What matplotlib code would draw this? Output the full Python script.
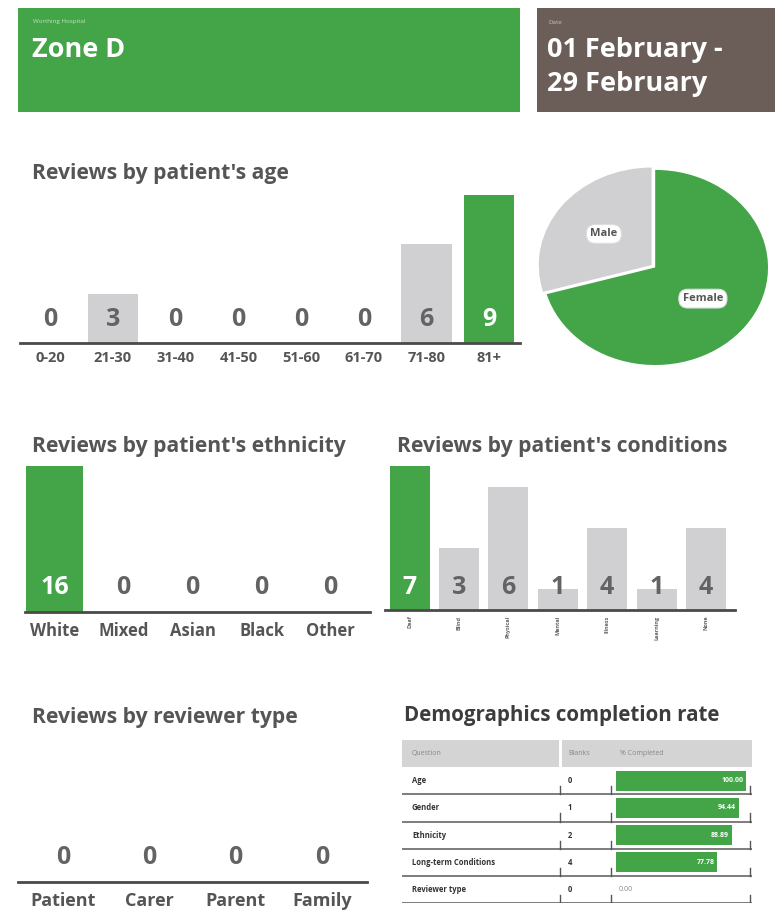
import matplotlib
matplotlib.use('Agg')
import matplotlib.pyplot as plt

plt.rcParams['font.family'] = ['Open Sans', 'DejaVu Sans']

W, H = 775, 910
GREEN = '#43a548'
GREY_BAR = '#d0d0d2'
BROWN = '#6b5e59'
TXT = '#555555'

# --- data ---
hospital = 'Worthing Hospital'
zone = 'Zone D'
date_from = '01 February -'
date_to = '29 February'

age_groups = ['0-20', '21-30', '31-40', '41-50', '51-60', '61-70', '71-80', '81+']
age_counts = [0, 3, 0, 0, 0, 0, 6, 9]

genders = ['Male', 'Female']
gender_counts = [5, 12]

ethnicities = ['White', 'Mixed', 'Asian', 'Black', 'Other']
ethnicity_counts = [16, 0, 0, 0, 0]

conditions = ['Deaf', 'Blind', 'Physical', 'Mental', 'Illness', 'Learning', 'None']
condition_counts = [7, 3, 6, 1, 4, 1, 4]

reviewer_types = ['Patient', 'Carer', 'Parent', 'Family']
reviewer_counts = [0, 0, 0, 0]

questions = ['Age', 'Gender', 'Ethnicity', 'Long-term Conditions', 'Reviewer type']
blanks = [0, 1, 2, 4, 0]
completed = [100.00, 94.44, 88.89, 77.78, 0.00]

fig = plt.figure(figsize=(W / 100, H / 100), dpi=100)
fig.patch.set_facecolor('white')


def add_ax(x0, y0, x1, y1):
    # pixel box (top-left origin) -> figure axes
    return fig.add_axes([x0 / W, 1 - y1 / H, (x1 - x0) / W, (y1 - y0) / H])


def ptext(x, y, s, **kw):
    fig.text(x / W, 1 - y / H, s, **kw)


# header boxes
hb = add_ax(18, 8, 520, 112)
hb.set_facecolor(GREEN)
hb.set_xticks([]); hb.set_yticks([])
for s in hb.spines.values():
    s.set_visible(False)
db = add_ax(537, 8, 775, 112)
db.set_facecolor(BROWN)
db.set_xticks([]); db.set_yticks([])
for s in db.spines.values():
    s.set_visible(False)

ptext(33, 22, hospital, fontsize=4.5, color='#bfe3c0', va='center')
ptext(32, 50, zone, fontsize=19.5, color='white', fontweight='bold', va='center')
ptext(548, 22, 'Date', fontsize=4.5, color='#c9bfbb', va='center')
ptext(547, 50, date_from, fontsize=19.5, color='white', fontweight='bold', va='center')
ptext(547, 84, date_to, fontsize=19.5, color='white', fontweight='bold', va='center')

# section titles
title_kw = dict(fontsize=15.2, color=TXT, fontweight='bold', va='center')
ptext(32, 173, "Reviews by patient's age", **title_kw)
ptext(32, 446, "Reviews by patient's ethnicity", **title_kw)
ptext(397, 446, "Reviews by patient's conditions", **title_kw)
ptext(32, 718, 'Reviews by reviewer type', **title_kw)
ptext(404, 716, 'Demographics completion rate', fontsize=14.8, color='#3c3c3c',
      fontweight='bold', va='center')


def bar_panel(ax, cats, vals, width, xlim, ylim, val_size, tick_size,
              val_off, tick_pad, rot=0, tick_color=TXT):
    top = max(vals)
    cols = [GREEN if (v == top and v > 0) else GREY_BAR for v in vals]
    xs = range(len(cats))
    ax.bar(xs, vals, width=width, color=cols)
    for x, v, c in zip(xs, vals, cols):
        ax.annotate(str(v), (x, 0), xytext=(0, val_off), textcoords='offset pixels',
                    ha='center', va='center', fontsize=val_size, fontweight='bold',
                    color='white' if c == GREEN else '#636363')
    ax.set_xlim(*xlim)
    ax.set_ylim(*ylim)
    ax.set_xticks(list(xs))
    ax.set_xticklabels(cats, rotation=rot, fontsize=tick_size, color=tick_color,
                       fontweight='bold')
    ax.tick_params(axis='x', length=0, pad=tick_pad)
    ax.set_yticks([])
    for s in ['top', 'right', 'left']:
        ax.spines[s].set_visible(False)
    ax.spines['bottom'].set_color('#4a4a4a')
    ax.spines['bottom'].set_linewidth(2)
    ax.patch.set_alpha(0)


# age
ax_age = add_ax(20, 190, 520, 343)
bar_panel(ax_age, age_groups, age_counts, 0.8, (-0.48, 7.49), (0, 9.3),
          18, 10.5, 23, 6)

# gender pie (slightly wider than tall, as in the source)
ax_pie = add_ax(539, 167, 768, 365)
ax_pie.pie(gender_counts, labels=genders, colors=[GREY_BAR, GREEN], startangle=90,
           explode=[0.04, 0], labeldistance=0.53,
           textprops=dict(fontsize=8, fontweight='bold', color='#555555',
                          ha='center', va='center',
                          bbox=dict(boxstyle='round,pad=0.35,rounding_size=0.8',
                                    fc='white', ec='#dddddd', lw=0.8)))
ax_pie.set_aspect('auto')
ax_pie.set_xlim(-1.03, 1.0)
ax_pie.set_ylim(-1.0, 1.03)

# ethnicity
ax_eth = add_ax(25, 466, 370, 612)
bar_panel(ax_eth, ethnicities, ethnicity_counts, 0.82, (-0.43, 4.57), (0, 16),
          18, 12, 24, 7)

# conditions
ax_con = add_ax(385, 466, 735, 610)
bar_panel(ax_con, conditions, condition_counts, 0.81, (-0.5, 6.59), (0, 7),
          18, 4, 22, 4, rot=90, tick_color='#666666')

# reviewer type
ax_rev = add_ax(18, 800, 367, 882)
bar_panel(ax_rev, reviewer_types, reviewer_counts, 0.8, (-0.52, 3.52), (0, 1),
          18, 13, 24, 7.5)

# completion table
tab = add_ax(402, 740, 752, 903)
tab.set_xlim(402, 752)
tab.set_ylim(4.5, -1.5)
tab.axis('off')
tab.fill_between([402, 559], -1.5, -0.5, color='#d4d4d4', lw=0)
tab.fill_between([562, 752], -1.5, -0.5, color='#d4d4d4', lw=0)
tab.text(412, -1, 'Question', fontsize=5, color='#888888', va='center')
tab.text(568, -1, 'Blanks', fontsize=5, color='#888888', va='center')
tab.text(620, -1, '% Completed', fontsize=5, color='#888888', va='center')
for i, (q, b) in enumerate(zip(questions, blanks)):
    tab.text(412, i, q, fontsize=5.5, color='#333333', fontweight='bold', va='center')
    tab.text(568, i, str(b), fontsize=5.5, color='#333333', fontweight='bold', va='center')
    tab.plot([402, 752], [i + 0.5, i + 0.5], color='#666666', lw=1.2)
    for vx in [560, 611, 750]:
        tab.plot([vx, vx], [i + 0.5, i + 0.2], color='#555555', lw=1)

ax_cmp = add_ax(616, 740, 746, 903)
ax_cmp.set_xlim(0, 100)
ax_cmp.set_ylim(4.5, -1.5)
ax_cmp.axis('off')
rows = range(len(questions))
ax_cmp.barh(rows, completed, height=0.74, color=GREEN)
for r, p in zip(rows, completed):
    if p > 0:
        ax_cmp.text(p - 2, r, '%.2f' % p, ha='right', va='center', fontsize=5,
                    color='white', fontweight='bold')
    else:
        ax_cmp.text(2, r, '%.2f' % p, ha='left', va='center', fontsize=5,
                    color='#888888')

fig.savefig('out.png', dpi=100, facecolor='white')
